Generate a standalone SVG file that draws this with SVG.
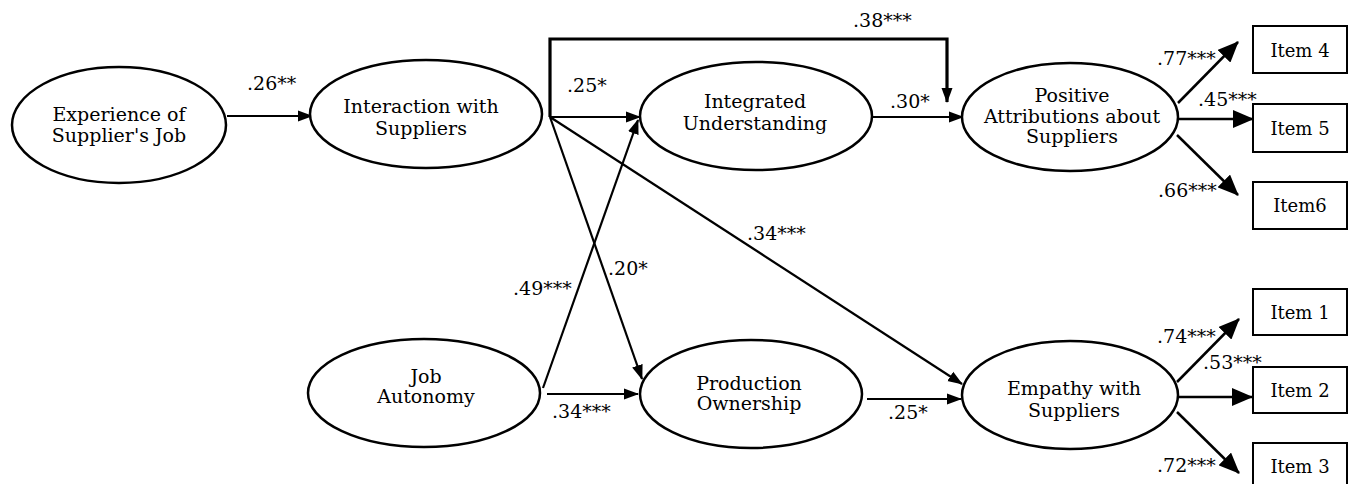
<svg xmlns="http://www.w3.org/2000/svg" width="1352" height="484" viewBox="0 0 1352 484">
<style>
  .node { fill: #fff; stroke: #000; stroke-width: 2.5; }
  .box { fill: #fff; stroke: #000; stroke-width: 2; }
  .t { font-family: "DejaVu Serif", "Liberation Serif", serif; font-size: 19px; fill: #000; text-anchor: middle; }
  .it { font-family: "DejaVu Serif", "Liberation Serif", serif; font-size: 18px; fill: #000; text-anchor: middle; }
  .lbl { font-family: "DejaVu Serif", "Liberation Serif", serif; font-size: 19px; fill: #000; }
  .c { fill: none; stroke: #000; stroke-width: 2.2; marker-end: url(#ah); }
  .cb { fill: none; stroke: #000; stroke-width: 2.5; marker-end: url(#ahb); }
  .thick { stroke-width: 3.2; }
</style>
<defs>
  <marker id="ah" markerUnits="userSpaceOnUse" markerWidth="15" markerHeight="12" refX="14" refY="6" orient="auto">
    <path d="M0,0.5 L15,6 L0,11.5 z" fill="#000"/>
  </marker>
  <marker id="ahb" markerUnits="userSpaceOnUse" markerWidth="21" markerHeight="18" refX="20" refY="9" orient="auto">
    <path d="M0,0 L21,9 L0,18 z" fill="#000"/>
  </marker>
</defs>
<rect width="1352" height="484" fill="#fff"/>

<g id="connectors">
  <path class="c" d="M227,116 H312"/>
  <path class="c thick" d="M550,117 V39 H947 V102"/>
  <path class="c" d="M550,117 H640"/>
  <path class="c" d="M872,117 H963"/>
  <path class="c" d="M550,117 L642,379"/>
  <path class="c" d="M550,117 L962,384"/>
  <path class="c" d="M543,388 L638,120"/>
  <path class="c" d="M547,394 H638"/>
  <path class="c" d="M867,399 H961"/>
  <path class="cb" d="M1178,103 L1238,42"/>
  <path class="cb" d="M1178,119 H1253"/>
  <path class="cb" d="M1177,135 L1238,195"/>
  <path class="cb" d="M1177,382 L1239,319"/>
  <path class="cb" d="M1177,397 H1252"/>
  <path class="cb" d="M1177,412 L1239,473"/>
  <text class="lbl" x="247" y="90">.26**</text>
  <text class="lbl" x="853" y="27">.38***</text>
  <text class="lbl" x="567" y="92">.25*</text>
  <text class="lbl" x="890" y="108">.30*</text>
  <text class="lbl" x="608" y="275">.20*</text>
  <text class="lbl" x="747" y="240">.34***</text>
  <text class="lbl" x="513" y="295">.49***</text>
  <text class="lbl" x="552" y="418">.34***</text>
  <text class="lbl" x="888" y="419">.25*</text>
  <text class="lbl" x="1157" y="65">.77***</text>
  <text class="lbl" x="1198" y="106">.45***</text>
  <text class="lbl" x="1158" y="197">.66***</text>
  <text class="lbl" x="1157" y="343">.74***</text>
  <text class="lbl" x="1203" y="369">.53***</text>
  <text class="lbl" x="1157" y="472">.72***</text>
</g>

<g id="experience">
  <ellipse class="node" cx="119" cy="125" rx="107" ry="58"/>
  <text class="t" x="119" y="121">Experience of</text>
  <text class="t" x="119" y="142">Supplier's Job</text>
</g>
<g id="interaction">
  <ellipse class="node" cx="426" cy="114" rx="116" ry="54"/>
  <text class="t" x="421" y="113">Interaction with</text>
  <text class="t" x="421" y="135">Suppliers</text>
</g>
<g id="integrated">
  <ellipse class="node" cx="756" cy="116" rx="116" ry="54"/>
  <text class="t" x="755" y="108">Integrated</text>
  <text class="t" x="755" y="130">Understanding</text>
</g>
<g id="positive">
  <ellipse class="node" cx="1070" cy="117" rx="108" ry="54"/>
  <text class="t" x="1072" y="102">Positive</text>
  <text class="t" x="1072" y="123">Attributions about</text>
  <text class="t" x="1072" y="143">Suppliers</text>
</g>
<g id="job-autonomy">
  <ellipse class="node" cx="424" cy="393" rx="116" ry="54"/>
  <text class="t" x="426" y="383">Job</text>
  <text class="t" x="426" y="403">Autonomy</text>
</g>
<g id="production">
  <ellipse class="node" cx="751" cy="394" rx="111" ry="54"/>
  <text class="t" x="749" y="390">Production</text>
  <text class="t" x="749" y="410">Ownership</text>
</g>
<g id="empathy">
  <ellipse class="node" cx="1070" cy="395" rx="108" ry="54"/>
  <text class="t" x="1074" y="395">Empathy with</text>
  <text class="t" x="1074" y="417">Suppliers</text>
</g>
<g id="item4">
  <rect class="box" x="1253" y="26" width="94" height="47"/>
  <text class="it" x="1300" y="57">Item 4</text>
</g>
<g id="item5">
  <rect class="box" x="1253" y="104" width="94" height="48"/>
  <text class="it" x="1300" y="135">Item 5</text>
</g>
<g id="item6">
  <rect class="box" x="1253" y="182" width="94" height="47"/>
  <text class="it" x="1300" y="212">Item6</text>
</g>
<g id="item1">
  <rect class="box" x="1253" y="289" width="94" height="46"/>
  <text class="it" x="1300" y="319">Item 1</text>
</g>
<g id="item2">
  <rect class="box" x="1253" y="367" width="94" height="46"/>
  <text class="it" x="1300" y="397">Item 2</text>
</g>
<g id="item3">
  <rect class="box" x="1253" y="443" width="94" height="46"/>
  <text class="it" x="1300" y="473">Item 3</text>
</g>
</svg>
